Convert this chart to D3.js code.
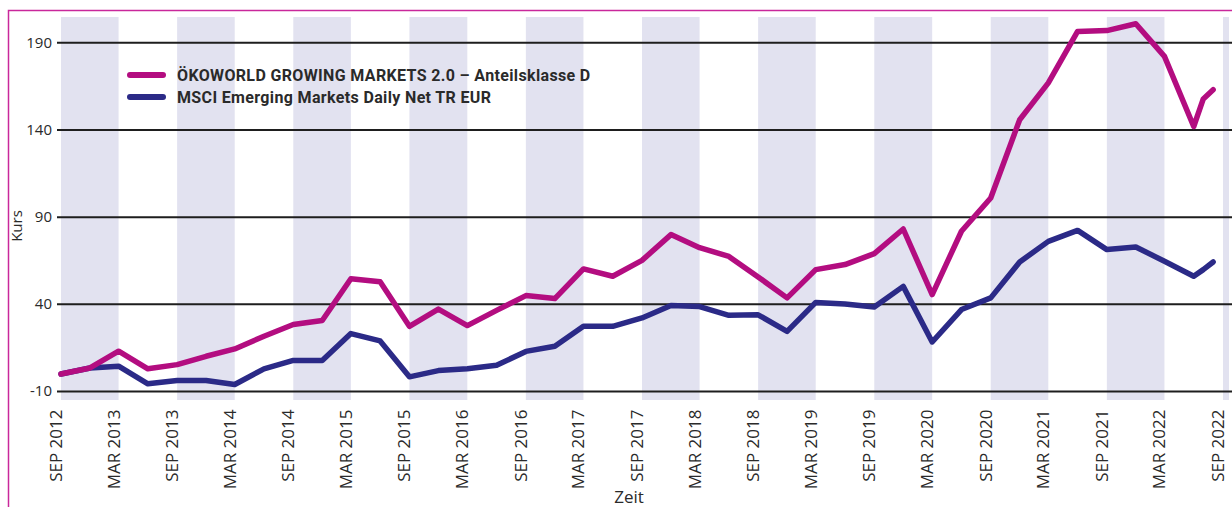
<!DOCTYPE html>
<html>
<head>
<meta charset="utf-8">
<script src="https://cdn.jsdelivr.net/npm/d3@7"></script>
<style>
  body { margin: 0; background: #fff; }
  svg { display: block; }
</style>
</head>
<body>
<div id="chart"></div>
<script>
var width = 1232;
var height = 507;

// quarterly values, then monthly at the end
var dates = ["2012-09", "2012-12", "2013-03", "2013-06", "2013-09", "2013-12",
    "2014-03", "2014-06", "2014-09", "2014-12", "2015-03", "2015-06",
    "2015-09", "2015-12", "2016-03", "2016-06", "2016-09", "2016-12",
    "2017-03", "2017-06", "2017-09", "2017-12", "2018-03", "2018-06",
    "2018-09", "2018-12", "2019-03", "2019-06", "2019-09", "2019-12",
    "2020-03", "2020-06", "2020-09", "2020-12", "2021-03", "2021-06",
    "2021-09", "2021-12", "2022-03", "2022-06", "2022-07", "2022-08"];
var fondsValues = [0, 3.5, 13.1, 3, 5.4, 10.2, 14.4, 21.7, 28.4, 30.7, 54.7, 53,
    27.4, 37.3, 27.8, 36.5, 45, 43.3, 60.3, 56.1, 65.2, 80, 72.5, 67.5,
    55.7, 43.7, 59.9, 62.8, 69.1, 83.2, 45.6, 81.9, 101, 145.9, 167, 196.5,
    197, 200.9, 182.2, 142, 157.8, 163.1];
var msciValues = [0, 3.5, 4.5, -5.6, -3.7, -3.7, -6, 3, 7.8, 7.8, 23.2, 19,
    -1.6, 2, 3, 5, 13, 16, 27.4, 27.4, 32.2, 39.3, 38.7, 33.7,
    34, 24.5, 41.1, 40.2, 38.5, 50.3, 18.4, 37, 43.7, 64.3, 76.1, 82.4,
    71.4, 72.9, 64.7, 56.1, 59.9, 64.3];
var yTicks = [-10, 40, 90, 140, 190];
var tickDates = ["2012-09", "2013-03", "2013-09", "2014-03", "2014-09", "2015-03",
    "2015-09", "2016-03", "2016-09", "2017-03", "2017-09", "2018-03", "2018-09",
    "2019-03", "2019-09", "2020-03", "2020-09", "2021-03", "2021-09", "2022-03", "2022-09"];
var tickLabels = ["SEP 2012", "MAR 2013", "SEP 2013", "MAR 2014", "SEP 2014", "MAR 2015",
    "SEP 2015", "MAR 2016", "SEP 2016", "MAR 2017", "SEP 2017", "MAR 2018", "SEP 2018",
    "MAR 2019", "SEP 2019", "MAR 2020", "SEP 2020", "MAR 2021", "SEP 2021", "MAR 2022", "SEP 2022"];
var seriesNames = ["ÖKOWORLD GROWING MARKETS 2.0 – Anteilsklasse D", "MSCI Emerging Markets Daily Net TR EUR"];
var colors = ["#b30d80", "#2b2a87"];

var parse = d3.timeParse("%Y-%m");

var svg = d3.select("#chart")
    .append("svg")
    .attr("width", width)
    .attr("height", height)

var x = d3.scaleTime()
    .domain([parse("2012-09"), parse("2022-09")])
    .range([61, 1223]);
var y = d3.scaleLinear()
    .domain([-10, 190])
    .range([391.5, 42.8]);

// frame
svg.append("path")
    .attr("d", "M8.5," + height + "V10.5H" + width)
    .attr("fill", "none")
    .attr("stroke", "#c9289b")
    .attr("stroke-width", 1.5);

// shaded half-year bands (Sep - Mar)
var bandStarts = tickDates.filter(function(d) { return d.slice(5) == "09" });
svg.append("g").selectAll("rect").data(bandStarts)
    .enter().append("rect")
    .attr("x", function(d) { return x(parse(d)) })
    .attr("y", 17)
    .attr("width", function(d) {
        var end = d3.timeMonth.offset(parse(d), 6);
        return Math.min(x(end), 1229) - x(parse(d));
    })
    .attr("height", 400 - 17)
    .attr("fill", "#e2e2f0");

// grid lines
svg.append("g").selectAll("line").data(yTicks)
    .enter().append("line")
    .attr("x1", 57)
    .attr("x2", width)
    .attr("y1", function(d) { return y(d) })
    .attr("y2", function(d) { return y(d) })
    .attr("stroke", "#1e1e1e")
    .attr("stroke-width", 2);

svg.append("g").selectAll("text").data(yTicks)
    .enter().append("text")
    .attr("x", 52)
    .attr("y", function(d) { return y(d) })
    .attr("dy", "0.32em")
    .attr("text-anchor", "end")
    .attr("font-family", "Open Sans")
    .attr("font-size", 15)
    .attr("fill", "#2a2a2a")
    .text(function(d) { return d });

// x labels
svg.append("g").selectAll("text").data(tickDates)
    .enter().append("text")
    .attr("transform", function(d) { return "translate(" + (x(parse(d)) + 1) + ",409.5) rotate(-90)" })
    .attr("text-anchor", "end")
    .attr("font-family", "Open Sans")
    .attr("font-size", 17)
    .attr("fill", "#2a2a2a")
    .text(function(d, i) { return tickLabels[i] });

// axis titles
svg.append("text")
    .attr("transform", "translate(22,226) rotate(-90)")
    .attr("text-anchor", "middle")
    .attr("font-family", "Open Sans")
    .attr("font-size", 15)
    .attr("fill", "#2a2a2a")
    .text("Kurs");
svg.append("text")
    .attr("x", 629)
    .attr("y", 503)
    .attr("text-anchor", "middle")
    .attr("font-family", "Open Sans")
    .attr("font-size", 17)
    .attr("fill", "#2a2a2a")
    .text("Zeit");

// lines
var line = d3.line()
    .x(function(d, i) { return x(parse(dates[i])) })
    .y(function(d) { return y(d) });

var series = [fondsValues, msciValues];
svg.append("g").selectAll("path").data(series.slice().reverse())
    .enter().append("path")
    .attr("d", line)
    .attr("fill", "none")
    .attr("stroke", function(d, i) { return colors[1 - i] })
    .attr("stroke-width", 5.5)
    .attr("stroke-linejoin", "round")
    .attr("stroke-linecap", "round");

// legend
var legend = svg.append("g").selectAll("g").data(seriesNames)
    .enter().append("g")
    .attr("transform", function(d, i) { return "translate(0," + (75 + i * 22) + ")" });
legend.append("line")
    .attr("x1", 130)
    .attr("x2", 163)
    .attr("stroke", function(d, i) { return colors[i] })
    .attr("stroke-width", 6)
    .attr("stroke-linecap", "round");
legend.append("text")
    .attr("x", 177)
    .attr("dy", "0.4em")
    .attr("font-family", "Roboto")
    .attr("font-weight", "bold")
    .attr("font-size", 16)
    .attr("letter-spacing", 0.35)
    .attr("fill", "#2a2a2a")
    .text(function(d) { return d });
</script>
</body>
</html>
